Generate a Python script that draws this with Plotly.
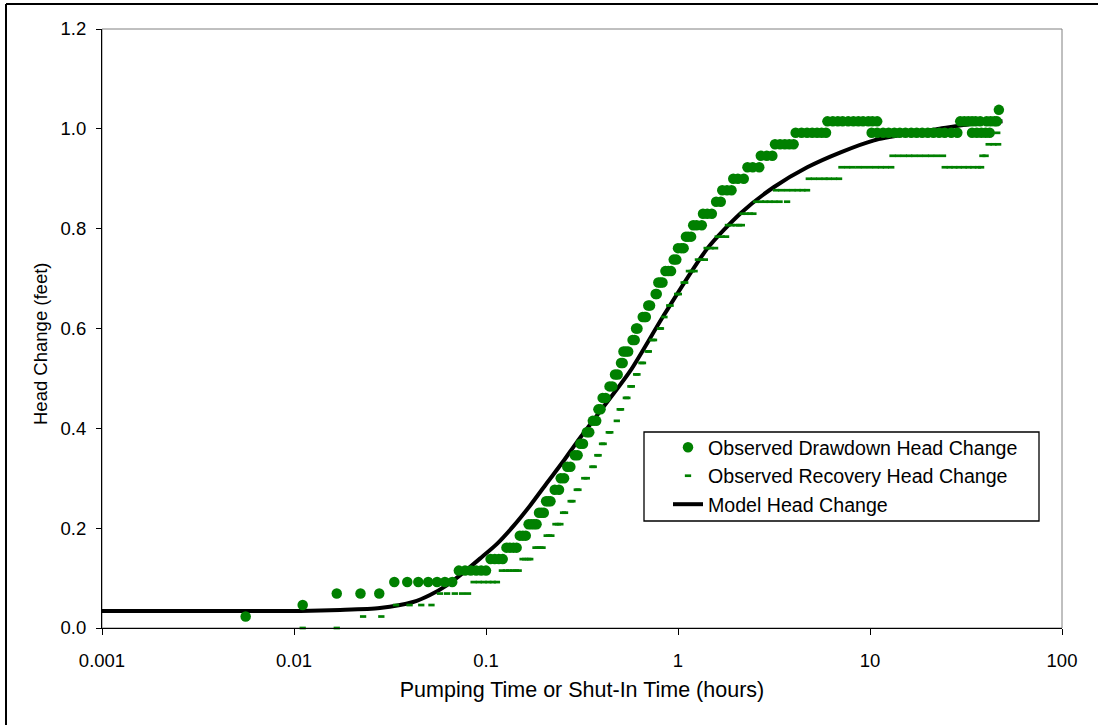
import plotly.graph_objects as go

# ---------------- data ----------------
dd_time = [
    0.0056,
    0.0111,
    0.0167, 0.0222, 0.0278,
    0.0333, 0.0389, 0.0444, 0.0500, 0.0556, 0.0611, 0.0667,
    0.0722, 0.0778, 0.0833, 0.0889, 0.0944, 0.1000,
    0.1056, 0.1111, 0.1167, 0.1222,
    0.1278, 0.1333, 0.1389, 0.1444,
    0.1500, 0.1556, 0.1611,
    0.1667, 0.1722, 0.1778, 0.1833,
    0.1889, 0.1944, 0.2000,
    0.2056, 0.2111, 0.2167,
    0.228, 0.240,
    0.245, 0.255,
    0.265, 0.275,
    0.29, 0.30,
    0.31, 0.32,
    0.335, 0.345,
    0.36, 0.375,
    0.385, 0.395,
    0.405, 0.42,
    0.44, 0.455,
    0.47, 0.485,
    0.505, 0.515,
    0.52, 0.535, 0.55,
    0.58, 0.595,
    0.605, 0.615,
    0.655, 0.67, 0.68,
    0.70, 0.715,
    0.765, 0.775,
    0.79, 0.81, 0.83,
    0.86, 0.89, 0.92,
    0.95, 0.98,
    1.0, 1.04, 1.07,
    1.1, 1.13, 1.17,
    1.2, 1.25, 1.33,
    1.35, 1.42, 1.5,
    1.58, 1.67,
    1.7, 1.8, 1.9,
    1.94, 2.05, 2.2,
    2.3, 2.45, 2.65,
    2.7, 2.9, 3.1,
    3.2, 3.4, 3.6, 3.8, 4.0,
    4.1, 4.4, 4.7, 5.0, 5.3, 5.6, 5.9,
    6.0, 6.4, 6.8, 7.2, 7.7, 8.2, 8.7, 9.2, 9.8, 10.3, 10.9,
    10.2, 10.9, 11.7, 12.5, 13.4, 14.3, 15.3, 16.4, 17.5, 18.7, 20.0, 21.4, 22.9, 24.5, 26.5, 28.5,
    29.5, 31.0, 32.5, 34.0, 35.5, 37.5,
    34.0, 36.0, 38.0, 40.0, 42.0,
    40.5, 42.5, 44.5, 45.8,
    46.9,
]
dd_head = [
    0.023,
    0.046,
    0.069, 0.069, 0.069,
    0.092, 0.092, 0.092, 0.092, 0.092, 0.092, 0.092,
    0.115, 0.115, 0.115, 0.115, 0.115, 0.115,
    0.138, 0.138, 0.138, 0.138,
    0.161, 0.161, 0.161, 0.161,
    0.185, 0.185, 0.185,
    0.208, 0.208, 0.208, 0.208,
    0.231, 0.231, 0.231,
    0.254, 0.254, 0.254,
    0.277, 0.277,
    0.300, 0.300,
    0.323, 0.323,
    0.346, 0.346,
    0.369, 0.369,
    0.392, 0.392,
    0.415, 0.415,
    0.438, 0.438,
    0.461, 0.461,
    0.484, 0.484,
    0.508, 0.508,
    0.531, 0.531,
    0.554, 0.554, 0.554,
    0.577, 0.577,
    0.600, 0.600,
    0.623, 0.623, 0.623,
    0.646, 0.646,
    0.669, 0.669,
    0.692, 0.692, 0.692,
    0.715, 0.715, 0.715,
    0.738, 0.738,
    0.761, 0.761, 0.761,
    0.784, 0.784, 0.784,
    0.807, 0.807, 0.807,
    0.830, 0.830, 0.830,
    0.854, 0.854,
    0.877, 0.877, 0.877,
    0.900, 0.900, 0.900,
    0.923, 0.923, 0.923,
    0.946, 0.946, 0.946,
    0.969, 0.969, 0.969, 0.969, 0.969,
    0.992, 0.992, 0.992, 0.992, 0.992, 0.992, 0.992,
    1.015, 1.015, 1.015, 1.015, 1.015, 1.015, 1.015, 1.015, 1.015, 1.015, 1.015,
    0.992, 0.992, 0.992, 0.992, 0.992, 0.992, 0.992, 0.992, 0.992, 0.992, 0.992, 0.992, 0.992, 0.992, 0.992, 0.992,
    1.015, 1.015, 1.015, 1.015, 1.015, 1.015,
    0.992, 0.992, 0.992, 0.992, 0.992,
    1.015, 1.015, 1.015, 1.015,
    1.038,
]

rec_time = [
    0.0111, 0.0167,
    0.0229, 0.0285,
    0.034, 0.040, 0.046, 0.052,
    0.0576, 0.0627, 0.0688, 0.0750, 0.0806,
    0.0862, 0.0918, 0.0973, 0.1029, 0.1085, 0.114,
    0.121, 0.127, 0.132, 0.138, 0.143, 0.148,
    0.155, 0.160, 0.166, 0.170,
    0.181, 0.186, 0.192, 0.197,
    0.207, 0.213, 0.219,
    0.230, 0.237, 0.244,
    0.252, 0.258,
    0.276, 0.282,
    0.297, 0.303,
    0.325, 0.335,
    0.358, 0.364,
    0.380, 0.386,
    0.402, 0.410,
    0.436, 0.444,
    0.48,
    0.497, 0.505,
    0.535, 0.545,
    0.565, 0.575,
    0.605, 0.615,
    0.645, 0.657,
    0.695, 0.705,
    0.735, 0.75,
    0.805, 0.815,
    0.85,
    0.90, 0.915,
    0.99, 1.01,
    1.07, 1.09,
    1.14, 1.18, 1.22,
    1.27, 1.32, 1.38,
    1.41, 1.48, 1.56,
    1.61, 1.69, 1.78,
    1.82, 1.9, 2.0, 2.08, 2.15,
    2.17, 2.27, 2.37, 2.47,
    2.55, 2.7, 2.85, 3.0, 3.18, 3.38, 3.7,
    3.24, 3.45, 3.7, 3.95, 4.2, 4.45, 4.7,
    4.8, 5.1, 5.45, 5.8, 6.1, 6.5, 6.9,
    7.1, 7.6, 8.1, 8.7, 9.3, 10.0, 10.7, 11.4, 12.1, 12.9,
    13.1, 14.0, 15.0, 16.0, 17.0, 18.2, 19.5, 20.8, 22.3, 24.0,
    24.5, 26.0, 27.5, 29.0, 30.8, 32.6, 34.5, 36.5, 37.9,
    38.5, 40.0,
    41.5, 44.0, 46.5,
    46.0,
]
rec_head = [
    0.0, 0.0,
    0.023, 0.023,
    0.046, 0.046, 0.046, 0.046,
    0.069, 0.069, 0.069, 0.069, 0.069,
    0.092, 0.092, 0.092, 0.092, 0.092, 0.092,
    0.115, 0.115, 0.115, 0.115, 0.115, 0.115,
    0.138, 0.138, 0.138, 0.138,
    0.161, 0.161, 0.161, 0.161,
    0.185, 0.185, 0.185,
    0.208, 0.208, 0.208,
    0.231, 0.231,
    0.254, 0.254,
    0.277, 0.277,
    0.300, 0.300,
    0.323, 0.323,
    0.346, 0.346,
    0.369, 0.369,
    0.392, 0.392,
    0.415,
    0.438, 0.438,
    0.461, 0.461,
    0.484, 0.484,
    0.508, 0.508,
    0.531, 0.531,
    0.554, 0.554,
    0.577, 0.577,
    0.600, 0.600,
    0.623,
    0.646, 0.646,
    0.669, 0.669,
    0.692, 0.692,
    0.715, 0.715, 0.715,
    0.738, 0.738, 0.738,
    0.761, 0.761, 0.761,
    0.784, 0.784, 0.784,
    0.807, 0.807, 0.807, 0.807, 0.807,
    0.830, 0.830, 0.830, 0.830,
    0.854, 0.854, 0.854, 0.854, 0.854, 0.854, 0.854,
    0.877, 0.877, 0.877, 0.877, 0.877, 0.877, 0.877,
    0.900, 0.900, 0.900, 0.900, 0.900, 0.900, 0.900,
    0.923, 0.923, 0.923, 0.923, 0.923, 0.923, 0.923, 0.923, 0.923, 0.923,
    0.946, 0.946, 0.946, 0.946, 0.946, 0.946, 0.946, 0.946, 0.946, 0.946,
    0.923, 0.923, 0.923, 0.923, 0.923, 0.923, 0.923, 0.923, 0.923,
    0.946, 0.946,
    0.969, 0.969, 0.969,
    0.992,
]

model_time = [0.001, 0.003, 0.008, 0.0108, 0.0174, 0.028, 0.0417, 0.0511, 0.0627,
              0.0762, 0.093, 0.1137, 0.1388, 0.1695, 0.2071, 0.2527, 0.2969, 0.377,
              0.564, 0.839, 1.42, 2.12, 3.15, 4.71, 7.03, 10.5, 15.7, 23.0, 34.4, 49.0]
model_head = [0.034, 0.034, 0.034, 0.034, 0.036, 0.040, 0.052, 0.066, 0.086,
              0.111, 0.139, 0.168, 0.204, 0.245, 0.290, 0.334, 0.372, 0.425,
              0.515, 0.625, 0.76, 0.831, 0.883, 0.923, 0.953, 0.977, 0.99, 1.0, 1.01, 1.015]

x_tickvals = [0.001, 0.01, 0.1, 1, 10, 100]
x_ticktext = ["0.001", "0.01", "0.1", "1", "10", "100"]

GREEN = "#008000"
FONT = "Arial, 'Liberation Sans', sans-serif"

# ---------------- layout geometry (pixels) ----------------
W, H = 1098, 725
L, R, T, B = 102, 1062, 29, 628
pw, ph = R - L, B - T


def px(xp):
    return (xp - L) / pw


def py(yp):
    return (B - yp) / ph


fig = go.Figure()

fig.add_trace(go.Scatter(
    x=model_time, y=model_head, mode="lines", name="Model Head Change",
    line=dict(color="black", width=4, shape="spline", smoothing=0.7),
    legendrank=3,
))
fig.add_trace(go.Scatter(
    x=dd_time, y=dd_head, mode="markers", name="Observed Drawdown Head Change",
    marker=dict(symbol="circle", size=10.5, color=GREEN, line=dict(width=0)),
    legendrank=1,
))
fig.add_trace(go.Scatter(
    x=rec_time, y=rec_head, mode="markers", name="Observed Recovery Head Change",
    marker=dict(symbol="line-ew", size=4.5, color=GREEN, line=dict(width=2.7, color=GREEN)),
    cliponaxis=False, legendrank=2,
))

fig.update_layout(
    width=W, height=H,
    margin=dict(l=L, r=W - R, t=T, b=H - B, pad=0),
    paper_bgcolor="white", plot_bgcolor="white",
    font=dict(family=FONT, size=18, color="black"),
    showlegend=True,
    legend=dict(
        x=px(668), y=py(428), xanchor="left", yanchor="top",
        bgcolor="rgba(0,0,0,0)", borderwidth=0,
        font=dict(family=FONT, size=19.6, color="black"),
    ),
    xaxis=dict(
        type="log", range=[-3, 2],
        tickvals=x_tickvals, ticktext=x_ticktext,
        ticks="outside", ticklen=6, tickcolor="black", tickwidth=1,
        showline=True, linecolor="black", linewidth=1,
        showgrid=False, zeroline=False,
        ticklabelstandoff=10,
        tickfont=dict(family=FONT, size=18.5),
        title=dict(text="Pumping Time or Shut-In Time (hours)",
                   font=dict(family=FONT, size=21.5), standoff=11),
    ),
    yaxis=dict(
        range=[0, 1.2], dtick=0.2, tickformat=".1f",
        ticks="outside", ticklen=5, tickcolor="black", tickwidth=1,
        showline=True, linecolor="black", linewidth=1,
        showgrid=False, zeroline=False,
        ticklabelstandoff=6,
        tickfont=dict(family=FONT, size=18.5),
    ),
    shapes=[
        # grey frame of plot area (top/right visible)
        dict(type="rect", xref="paper", yref="paper", x0=0, x1=1, y0=0, y1=1,
             line=dict(color="#808080", width=1), layer="below"),
        # legend box
        dict(type="rect", xref="paper", yref="paper",
             x0=px(644), x1=px(1039), y0=py(521), y1=py(432),
             line=dict(color="black", width=1.3), fillcolor="white", layer="above"),
        # outer chart border (left and top)
        dict(type="line", xref="paper", yref="paper",
             x0=px(6), x1=px(6), y0=py(4), y1=py(740),
             line=dict(color="black", width=2)),
        dict(type="line", xref="paper", yref="paper",
             x0=px(6), x1=px(1110), y0=py(4), y1=py(4),
             line=dict(color="black", width=2)),
    ],
    annotations=[
        dict(text="Head Change (feet)", xref="paper", yref="paper",
             x=px(40), y=py(343), xanchor="center", yanchor="middle",
             textangle=-90, showarrow=False,
             font=dict(family=FONT, size=18.5, color="black")),
    ],
)

fig.write_html("out.html")
